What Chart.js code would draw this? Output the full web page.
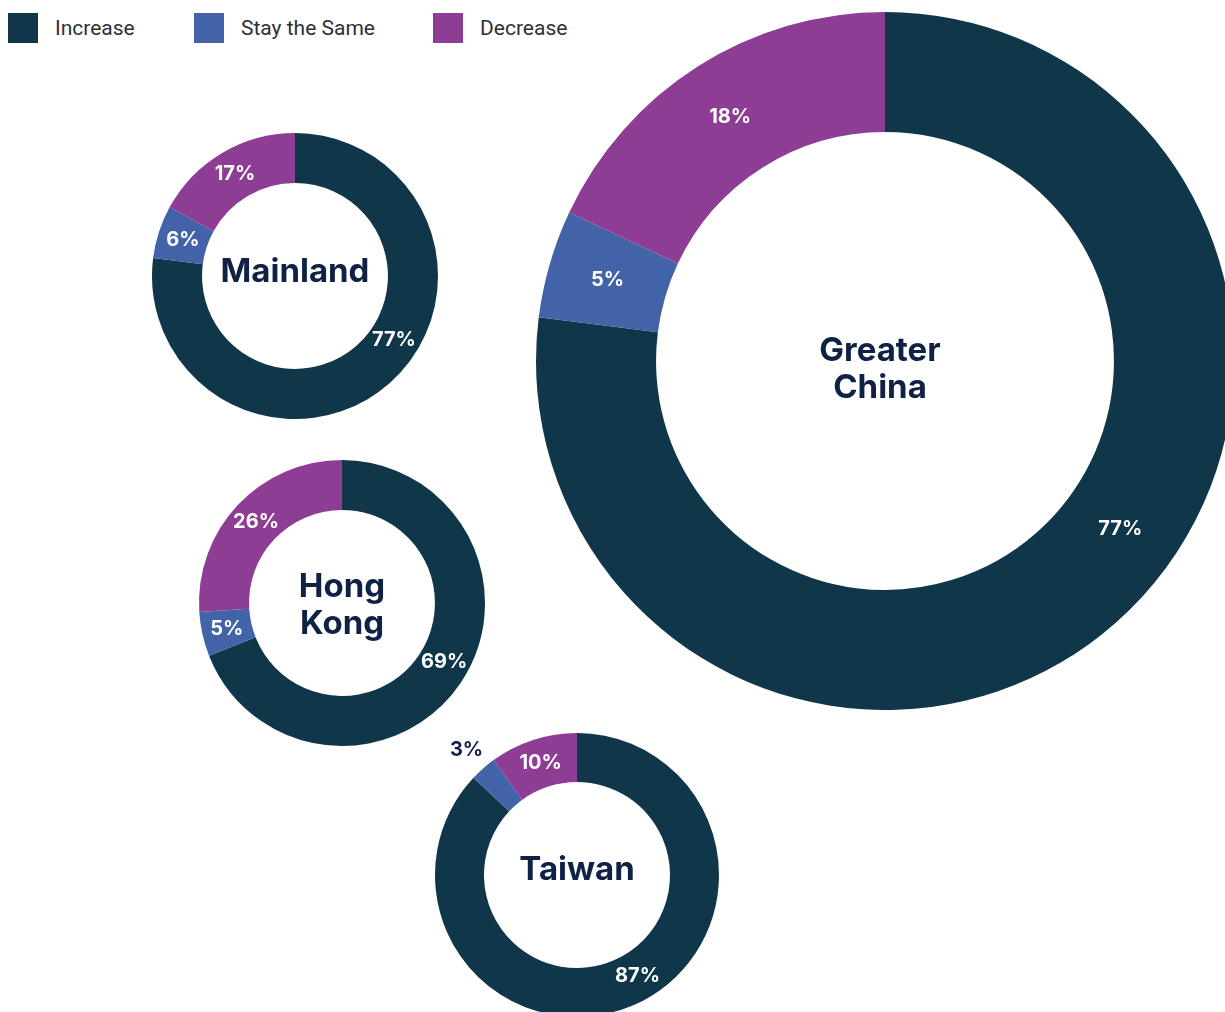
<!DOCTYPE html>
<html>
<head>
<meta charset="utf-8">
<script src="https://cdn.jsdelivr.net/npm/chart.js@4.4.1/dist/chart.umd.min.js"></script>
<style>
  body { margin: 0; width: 1225px; height: 1012px; overflow: hidden; background: #fff; position: relative; }
  .legend-item { position: absolute; top: 13px; display: flex; align-items: center; gap: 17px; font-family: Roboto, sans-serif; font-size: 21px; color: #2d3038; }
  .swatch { width: 30px; height: 30px; }
  canvas { position: absolute; }
</style>
</head>
<body>

<script>
const regions = ['Greater China', 'Mainland', 'Hong Kong', 'Taiwan'];
const seriesNames = ['Increase', 'Stay the Same', 'Decrease'];
const increase = [77, 77, 69, 87];
const stayTheSame = [5, 6, 5, 3];
const decrease = [18, 17, 26, 10];
const colors = ['#10364a', '#4263a8', '#8e3d94'];

// where each ring sits on the page
const rings = [
  { cx: 885, cy: 361, r: 349, cutout: '65.6%', title: ['Greater', 'China'], titleDx: -5, titleDy: 9, bigAngle: 35.5 },
  { cx: 295, cy: 276, r: 143, cutout: '65%', title: ['Mainland'], titleDx: 0, titleDy: -4, bigAngle: 33 },
  { cx: 342, cy: 603, r: 143, cutout: '65%', title: ['Hong', 'Kong'], titleDx: 0, titleDy: 3, bigAngle: 30 },
  { cx: 577, cy: 875, r: 142, cutout: '65.5%', title: ['Taiwan'], titleDx: 0, titleDy: -5, bigAngle: 59, outside: 1 }
];
const pad = 40;
const legendLeft = [8, 194, 433];

// legend
seriesNames.forEach((name, i) => {
  const item = document.createElement('div');
  item.className = 'legend-item';
  item.style.left = legendLeft[i] + 'px';
  item.innerHTML = `<div class="swatch" style="background:${colors[i]}"></div><span>${name}</span>`;
  document.body.appendChild(item);
});

const ringLabels = {
  id: 'ringLabels',
  afterDatasetsDraw(chart, args, opts) {
    const ctx = chart.ctx;
    const meta = chart.getDatasetMeta(0);
    const values = chart.data.datasets[0].data;
    ctx.save();
    ctx.textAlign = 'center';
    ctx.textBaseline = 'middle';
    ctx.font = 'bold 20px Inter, sans-serif';
    let cx = 0, cy = 0;
    meta.data.forEach((arc, i) => {
      const p = arc.getProps(['x', 'y', 'startAngle', 'endAngle', 'innerRadius', 'outerRadius'], true);
      cx = p.x; cy = p.y;
      let a = (p.startAngle + p.endAngle) / 2;
      let r = (p.innerRadius + p.outerRadius) / 2;
      ctx.fillStyle = '#ffffff';
      if (i === 0) a = opts.bigAngle * Math.PI / 180;
      if (opts.outside === i) {
        r = p.outerRadius + 25;
        ctx.fillStyle = '#0f2145';
      }
      ctx.fillText(values[i] + '%', cx + Math.cos(a) * r, cy + Math.sin(a) * r);
    });
    // title in the hole
    ctx.font = 'bold 33px Inter, sans-serif';
    ctx.fillStyle = '#0f2145';
    const lh = 37;
    const lines = opts.title;
    lines.forEach((line, k) => {
      const y = cy + opts.titleDy + (k - (lines.length - 1) / 2) * lh;
      ctx.fillText(line, cx + opts.titleDx, y);
    });
    ctx.restore();
  }
};

rings.forEach((ring, idx) => {
  const canvas = document.createElement('canvas');
  const size = ring.r * 2 + pad * 2;
  canvas.width = size;
  canvas.height = size;
  canvas.style.left = (ring.cx - ring.r - pad) + 'px';
  canvas.style.top = (ring.cy - ring.r - pad) + 'px';
  document.body.appendChild(canvas);

  new Chart(canvas.getContext('2d'), {
    type: 'doughnut',
    data: {
      labels: seriesNames,
      datasets: [{
        label: regions[idx],
        data: [increase[idx], stayTheSame[idx], decrease[idx]],
        backgroundColor: colors,
        borderWidth: 0
      }]
    },
    options: {
      responsive: false,
      animation: false,
      cutout: ring.cutout,
      layout: { padding: pad },
      plugins: {
        legend: { display: false },
        tooltip: { enabled: false },
        ringLabels: { title: ring.title, titleDx: ring.titleDx, titleDy: ring.titleDy, bigAngle: ring.bigAngle, outside: ring.outside }
      }
    },
    plugins: [ringLabels]
  });
});
</script>
</body>
</html>
